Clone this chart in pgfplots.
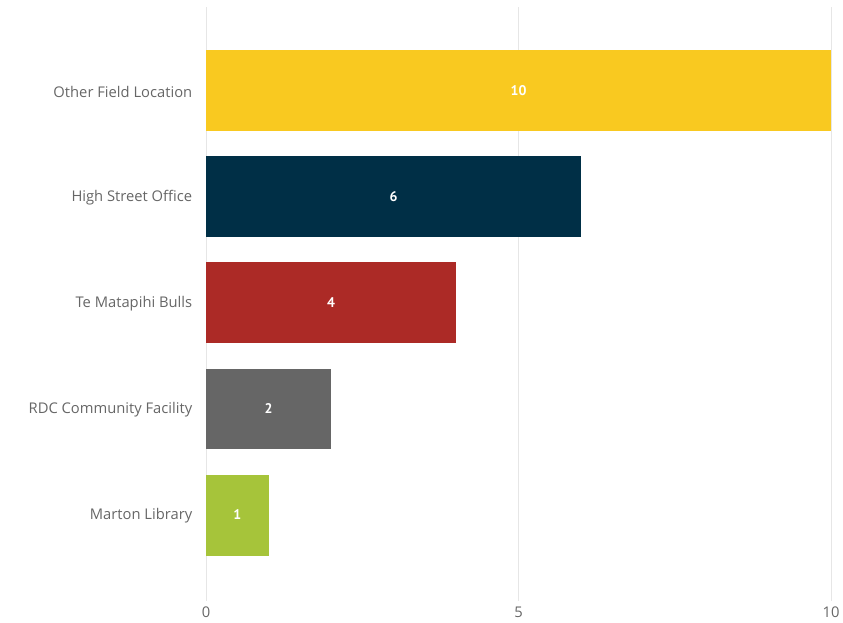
\documentclass[border=0pt]{standalone}
\usepackage{pgfplots}
\pgfplotsset{compat=1.18}
\usepackage{fontspec}
\setmainfont{Open Sans}
\newfontfamily\valfont{PT Sans}
\definecolor{cyel}{HTML}{F9C920}
\definecolor{cnavy}{HTML}{002F46}
\definecolor{cred}{HTML}{AC2A26}
\definecolor{cgray}{HTML}{666666}
\definecolor{cgreen}{HTML}{A6C43A}
\definecolor{ctxt}{HTML}{666666}
\definecolor{cgrid}{HTML}{E6E6E6}
\begin{document}
\begin{tikzpicture}[x=1bp,y=1bp]
\useasboundingbox (0,0) rectangle (843,623);
\begin{axis}[
  at={(206bp,22bp)}, anchor=south west,
  scale only axis, width=625bp, height=594bp,
  xmin=0, xmax=10, ymin=-0.811, ymax=4.792,
  axis line style={draw=none},
  xmajorgrids, grid style={cgrid, line width=0.8bp},
  xtick={0,5,10}, ytick={0,1,2,3,4},
  yticklabels={Marton Library, RDC Community Facility, Te Matapihi Bulls, High Street Office, Other Field Location},
  tick style={draw=none},
  xticklabel style={font=\fontsize{14.8}{17}\selectfont, text=ctxt, anchor=center, yshift=-11bp},
  yticklabel style={font=\fontsize{14.8}{17}\selectfont, text=ctxt, anchor=east, xshift=-6bp, yshift=-1bp},
  xticklabel={\pgfmathprintnumber[assume math mode=true]{\tick}},
  xbar, bar width=0.764, bar shift=0pt,
  clip=false,
]
\addplot[fill=cyel, draw=none] coordinates {(10,4)};
\addplot[fill=cnavy, draw=none] coordinates {(6,3)};
\addplot[fill=cred, draw=none] coordinates {(4,2)};
\addplot[fill=cgray, draw=none] coordinates {(2,1)};
\addplot[fill=cgreen, draw=none] coordinates {(1,0)};
\addplot[draw=none, fill=none, nodes near coords, point meta=explicit symbolic,
  nodes near coords style={anchor=center, text=white, font=\valfont\bfseries\fontsize{14}{16}\selectfont}]
  coordinates {(5,4) [10] (3,3) [6] (2,2) [4] (1,1) [2] (0.5,0) [1]};
\end{axis}
\end{tikzpicture}
\end{document}
